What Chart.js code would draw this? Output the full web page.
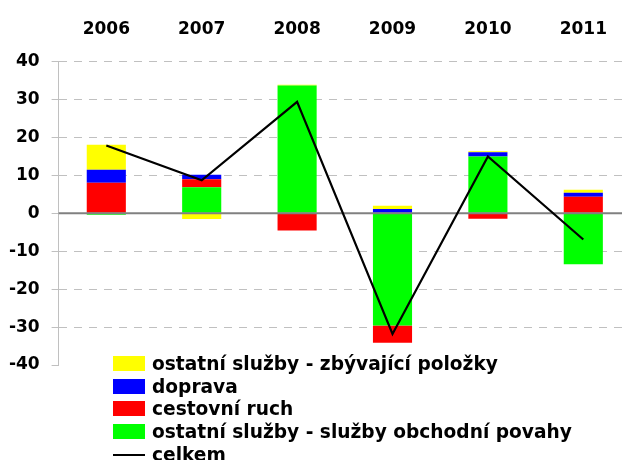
<!DOCTYPE html>
<html>
<head>
<meta charset="utf-8">
<script src="https://cdn.jsdelivr.net/npm/chart.js@4.4.1/dist/chart.umd.min.js"></script>
<style>
  html, body { margin: 0; padding: 0; background: #fff; width: 622px; height: 460px; overflow: hidden; }
  #wrap { position: relative; width: 640px; height: 460px; }
  #legend { position: absolute; left: 113px; top: 352px; font: bold 18.6px "DejaVu Sans", sans-serif; color: #000; }
  .row { display: flex; align-items: center; height: 22.8px; white-space: nowrap; }
  .swatch { width: 32px; height: 15px; margin-right: 7px; flex: none; }
  .dash { width: 32px; height: 2px; margin-right: 7px; flex: none; background: #000; }
</style>
</head>
<body>
<div id="wrap">
  <canvas id="chart"></canvas>
  <div id="legend"></div>
</div>
<script>
const years = ['2006', '2007', '2008', '2009', '2010', '2011'];

// saldo složek služeb (mld. Kč)
const obchodniSluzby = [-0.4, 6.9, 33.7, -29.6, 15.0, -13.4];
const cestovniRuch = [8.1, 2.1, -4.5, -4.5, -1.4, 4.4];
const doprava = [3.4, 1.2, 0, 1.15, 1.1, 1.05];
const zbyvajici = [6.6, -1.5, 0.2, 0.85, 0.3, 0.8];
const celkem = [17.9, 8.7, 29.4, -31.8, 15.0, -6.9];

const yTicks = [40, 30, 20, 10, 0, -10, -20, -30, -40];

const font = { family: 'DejaVu Sans', size: 17, weight: 'bold' };

// zero line sits above the bars but under the total line
const zeroLine = {
  id: 'zeroLine',
  beforeDatasetDraw(chart, args) {
    if (args.meta.type !== 'line') return;
    const { ctx, chartArea, scales } = chart;
    const y = scales.y.getPixelForValue(0);
    ctx.save();
    ctx.strokeStyle = '#808080';
    ctx.lineWidth = 2;
    ctx.beginPath();
    ctx.moveTo(chartArea.left, y);
    ctx.lineTo(chartArea.right, y);
    ctx.stroke();
    ctx.restore();
  },
};

const barSets = [
  { label: 'ostatní služby - služby obchodní povahy', data: obchodniSluzby, color: '#00ff00' },
  { label: 'cestovní ruch', data: cestovniRuch, color: '#ff0000' },
  { label: 'doprava', data: doprava, color: '#0000ff' },
  { label: 'ostatní služby - zbývající položky', data: zbyvajici, color: '#ffff00' },
];

new Chart(document.getElementById('chart'), {
  type: 'bar',
  data: {
    labels: years,
    datasets: [
      {
        type: 'line',
        label: 'celkem',
        data: celkem,
        borderColor: '#000',
        borderWidth: 2.2,
        pointRadius: 0,
        tension: 0,
        stack: 'total',
        order: 0,
      },
      ...barSets.map((s) => ({
        label: s.label,
        data: s.data,
        backgroundColor: s.color,
        borderWidth: 0,
        stack: 'saldo',
        order: 1,
        categoryPercentage: 1,
        barPercentage: 0.41,
      })),
    ],
  },
  options: {
    responsive: true,
    maintainAspectRatio: false,
    animation: false,
    layout: { padding: { left: 0, right: 9, top: 0, bottom: 95 } },
    plugins: { legend: { display: false }, tooltip: { enabled: false } },
    scales: {
      x: {
        position: 'top',
        stacked: true,
        grid: { display: false, drawTicks: false },
        border: { display: false },
        ticks: { color: '#000', font: font, padding: 22 },
        afterFit: (scale) => { scale.height = 61.7; },
      },
      y: {
        stacked: true,
        min: -40,
        max: 40,
        afterBuildTicks: (scale) => { scale.ticks = yTicks.map((v) => ({ value: v })); },
        afterFit: (scale) => { scale.width = 58.6; },
        ticks: { color: '#000', font: font, padding: 12 },
        grid: {
          color: (ctx) => (ctx.tick && (ctx.tick.value === -40 || ctx.tick.value === 0) ? 'rgba(0,0,0,0)' : '#c0c0c0'),
          tickColor: '#c0c0c0',
          tickLength: 7,
          tickBorderDash: [],
        },
        border: {
          color: '#c0c0c0',
          width: 1,
          dash: (ctx) => (ctx.tick ? [8, 7] : []),
        },
      },
    },
  },
  plugins: [zeroLine],
});

// legend: bar series in reverse stacking order, then the total line
const legend = document.getElementById('legend');
[...barSets].reverse().forEach((s) => {
  legend.insertAdjacentHTML('beforeend',
    '<div class="row"><span class="swatch" style="background:' + s.color + '"></span>' + s.label + '</div>');
});
legend.insertAdjacentHTML('beforeend', '<div class="row"><span class="dash"></span>celkem</div>');
</script>
</body>
</html>
